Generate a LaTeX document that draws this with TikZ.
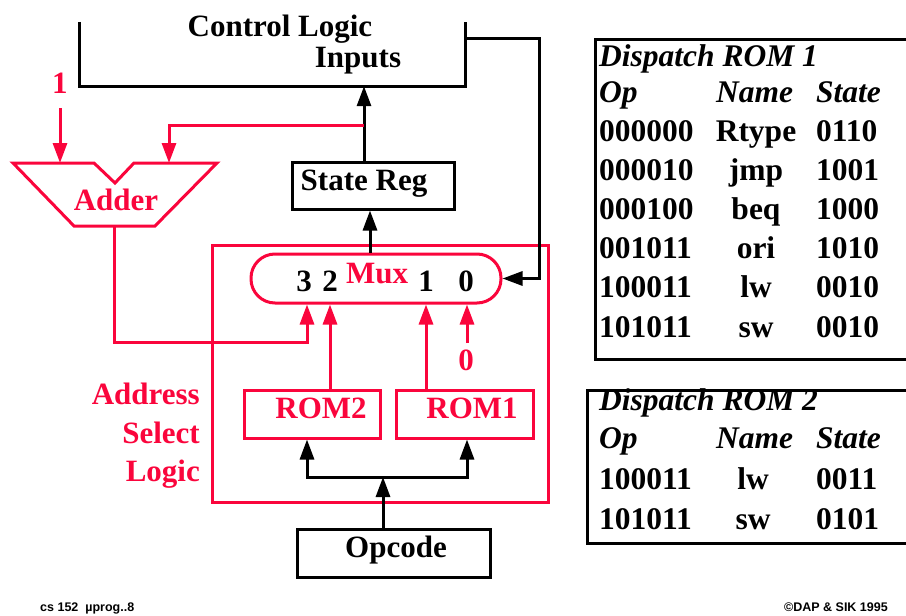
\documentclass[tikz,border=0pt]{standalone}
\usepackage{fontspec}
\setmainfont{Liberation Serif}
\setsansfont{Liberation Sans}
\usetikzlibrary{arrows.meta}
\definecolor{rd}{RGB}{250,5,60}
\tikzset{
  blk/.style={line width=3pt, draw=black},
  rl/.style={line width=3pt, draw=rd},
  arr/.style={-{Triangle[length=20pt,width=14pt]}},
  txt/.style={inner sep=0pt, anchor=base, font=\fontsize{31}{36}\selectfont\bfseries},
  tab/.style={inner sep=0pt, anchor=base west, font=\fontsize{31.5}{36}\selectfont\bfseries},
  tabc/.style={inner sep=0pt, anchor=base, font=\fontsize{31.5}{36}\selectfont\bfseries},
  tabi/.style={inner sep=0pt, anchor=base west, font=\fontsize{31.5}{36}\selectfont\bfseries\itshape},
  foot/.style={inner sep=0pt, font=\sffamily\bfseries\fontsize{12.5}{14}\selectfont},
}
\begin{document}
\begin{tikzpicture}[x=1pt,y=-1pt]
\useasboundingbox (0,0) rectangle (906,616);
\clip (0,0) rectangle (906,616);

% Control logic bracket
\node[inner sep=0pt, minimum width=385pt, minimum height=64pt] (cl) at (272.5,54) {};
\draw[blk] (cl.north west) -- (cl.south west) -- (cl.south east) -- (cl.north east);
\node[txt] (clt) at (280,36) {Control Logic};
\node[txt] (cli) at (358,67) {Inputs};

% State register
\node[blk, draw, inner sep=0pt, minimum width=162pt, minimum height=47pt] (sr) at (373,185.5) {};
\node[txt] (srt) at (364,190) {State Reg};

% Adder
\draw[rl, line join=miter] (13,163) -- (94,163) -- (115,183) -- (134,163) -- (217,163) -- (155,226) -- (74,226) -- cycle;
\coordinate (a1) at (60,163);
\coordinate (a2) at (169,163);
\coordinate (ao) at (114,226);
\node[txt, text=rd] (addt) at (116,210) {Adder};
\node[txt, text=rd] (one) at (60,93) {1};
\coordinate (oneS) at (60,108);
\draw[rl, arr] (oneS) -- (a1);

% Address select logic box
\node[rl, draw, inner sep=0pt, minimum width=336pt, minimum height=257pt] (asl) at (380,373.5) {};
\node[txt, text=rd, anchor=base east] (asl1) at (200,404) {Address};
\node[txt, text=rd, anchor=base east] (asl2) at (200,443) {Select};
\node[txt, text=rd, anchor=base east] (asl3) at (200,481) {Logic};

% Mux
\node[rl, draw, inner sep=0pt, rounded corners=24pt, minimum width=250pt, minimum height=49pt] (mux) at (376,278.5) {};
\node[txt, text=rd] (muxt) at (377,283) {Mux};
\node[txt] (m3t) at (304,291) {3};
\node[txt] (m2t) at (330,291) {2};
\node[txt] (m1t) at (426,291) {1};
\node[txt] (m0t) at (466,291) {0};

% ROMs
\node[rl, draw, inner sep=0pt, minimum width=136pt, minimum height=48pt] (rom2) at (312,414) {};
\node[txt, text=rd] (rom2t) at (321,418) {ROM2};
\node[rl, draw, inner sep=0pt, minimum width=137pt, minimum height=48pt] (rom1) at (464.5,414) {};
\node[txt, text=rd] (rom1t) at (472,418) {ROM1};
\node[txt, text=rd] (zero) at (466,370) {0};

% Opcode
\node[blk, draw, inner sep=0pt, minimum width=193pt, minimum height=48pt] (opc) at (393.5,553) {};
\node[txt] (opct) at (396,557) {Opcode};

% connectors
\coordinate (j1) at (364,125);
\draw[blk, arr] (sr.north -| j1) -- (cl.south -| j1);
\draw[rl, arr] (j1) -- (j1 -| a2) -- (a2);

\coordinate (mxo) at (370,254);
\draw[blk, arr] (mux.north -| mxo) -- (sr.south -| mxo);

\coordinate (fb) at (539,38);
\draw[blk, arr] (cl.north east |- fb) -- (fb) -- (fb |- mux.east) -- (mux.east);

\coordinate (bend) at (114,342);
\coordinate (x3) at (307,0);
\draw[rl, arr] (ao) -- (bend) -- (bend -| x3) -- (mux.south -| x3);

\coordinate (x2) at (330,0);
\draw[rl, arr] (rom2.north -| x2) -- (mux.south -| x2);
\coordinate (x1) at (426,0);
\draw[rl, arr] (rom1.north -| x1) -- (mux.south -| x1);
\coordinate (zs) at (467,343);
\draw[rl, arr] (zs) -- (mux.south -| zs);

\coordinate (oj) at (383,477);
\coordinate (b2) at (307,477);
\coordinate (b1) at (467,477);
\draw[blk, {Triangle[length=20pt,width=14pt]}-{Triangle[length=20pt,width=14pt]}] (rom2.south -| b2) -- (b2) -- (b1) -- (rom1.south -| b1);
\draw[blk, arr] (opc.north -| oj) -- (oj);

% Dispatch ROM 1 table
\node[blk, draw, line width=2.5pt, inner sep=0pt, anchor=north west, minimum width=340pt, minimum height=320pt] (t1) at (594,38) {};
\node[tabi] (t1a) at (599,66) {Dispatch ROM 1};
\node[tabi] (t1b) at (599,102) {Op};
\node[tabi] (t1c) at (716,102) {Name};
\node[tabi] (t1d) at (816,102) {State};
\node[tab] (r1a) at (599,141) {000000};
\node[tabc] (r1b) at (756,141) {Rtype};
\node[tab] (r1c) at (816,141) {0110};
\node[tab] (r2a) at (599,180.2) {000010};
\node[tabc] (r2b) at (756,180.2) {jmp};
\node[tab] (r2c) at (816,180.2) {1001};
\node[tab] (r3a) at (599,219.4) {000100};
\node[tabc] (r3b) at (756,219.4) {beq};
\node[tab] (r3c) at (816,219.4) {1000};
\node[tab] (r4a) at (599,258.6) {001011};
\node[tabc] (r4b) at (756,258.6) {ori};
\node[tab] (r4c) at (816,258.6) {1010};
\node[tab] (r5a) at (599,297.8) {100011};
\node[tabc] (r5b) at (756,297.8) {lw};
\node[tab] (r5c) at (816,297.8) {0010};
\node[tab] (r6a) at (599,337) {101011};
\node[tabc] (r6b) at (756,337) {sw};
\node[tab] (r6c) at (816,337) {0010};

% Dispatch ROM 2 table
\node[blk, draw, line width=2.5pt, inner sep=0pt, anchor=north west, minimum width=340pt, minimum height=153pt] (t2) at (586,389) {};
\node[tabi] (t2a) at (599,410) {Dispatch ROM 2};
\node[tabi] (t2b) at (599,448) {Op};
\node[tabi] (t2c) at (716,448) {Name};
\node[tabi] (t2d) at (816,448) {State};
\node[tab] (s1a) at (599,489) {100011};
\node[tabc] (s1b) at (753,489) {lw};
\node[tab] (s1c) at (816,489) {0011};
\node[tab] (s2a) at (599,529) {101011};
\node[tabc] (s2b) at (753,529) {sw};
\node[tab] (s2c) at (816,529) {0101};

% footer
\node[foot, anchor=base west] (f1) at (40,611) {cs 152\ \ µprog..8};
\node[foot, anchor=base east] (f2) at (888,611) {©DAP \& SIK 1995};
\end{tikzpicture}
\end{document}
